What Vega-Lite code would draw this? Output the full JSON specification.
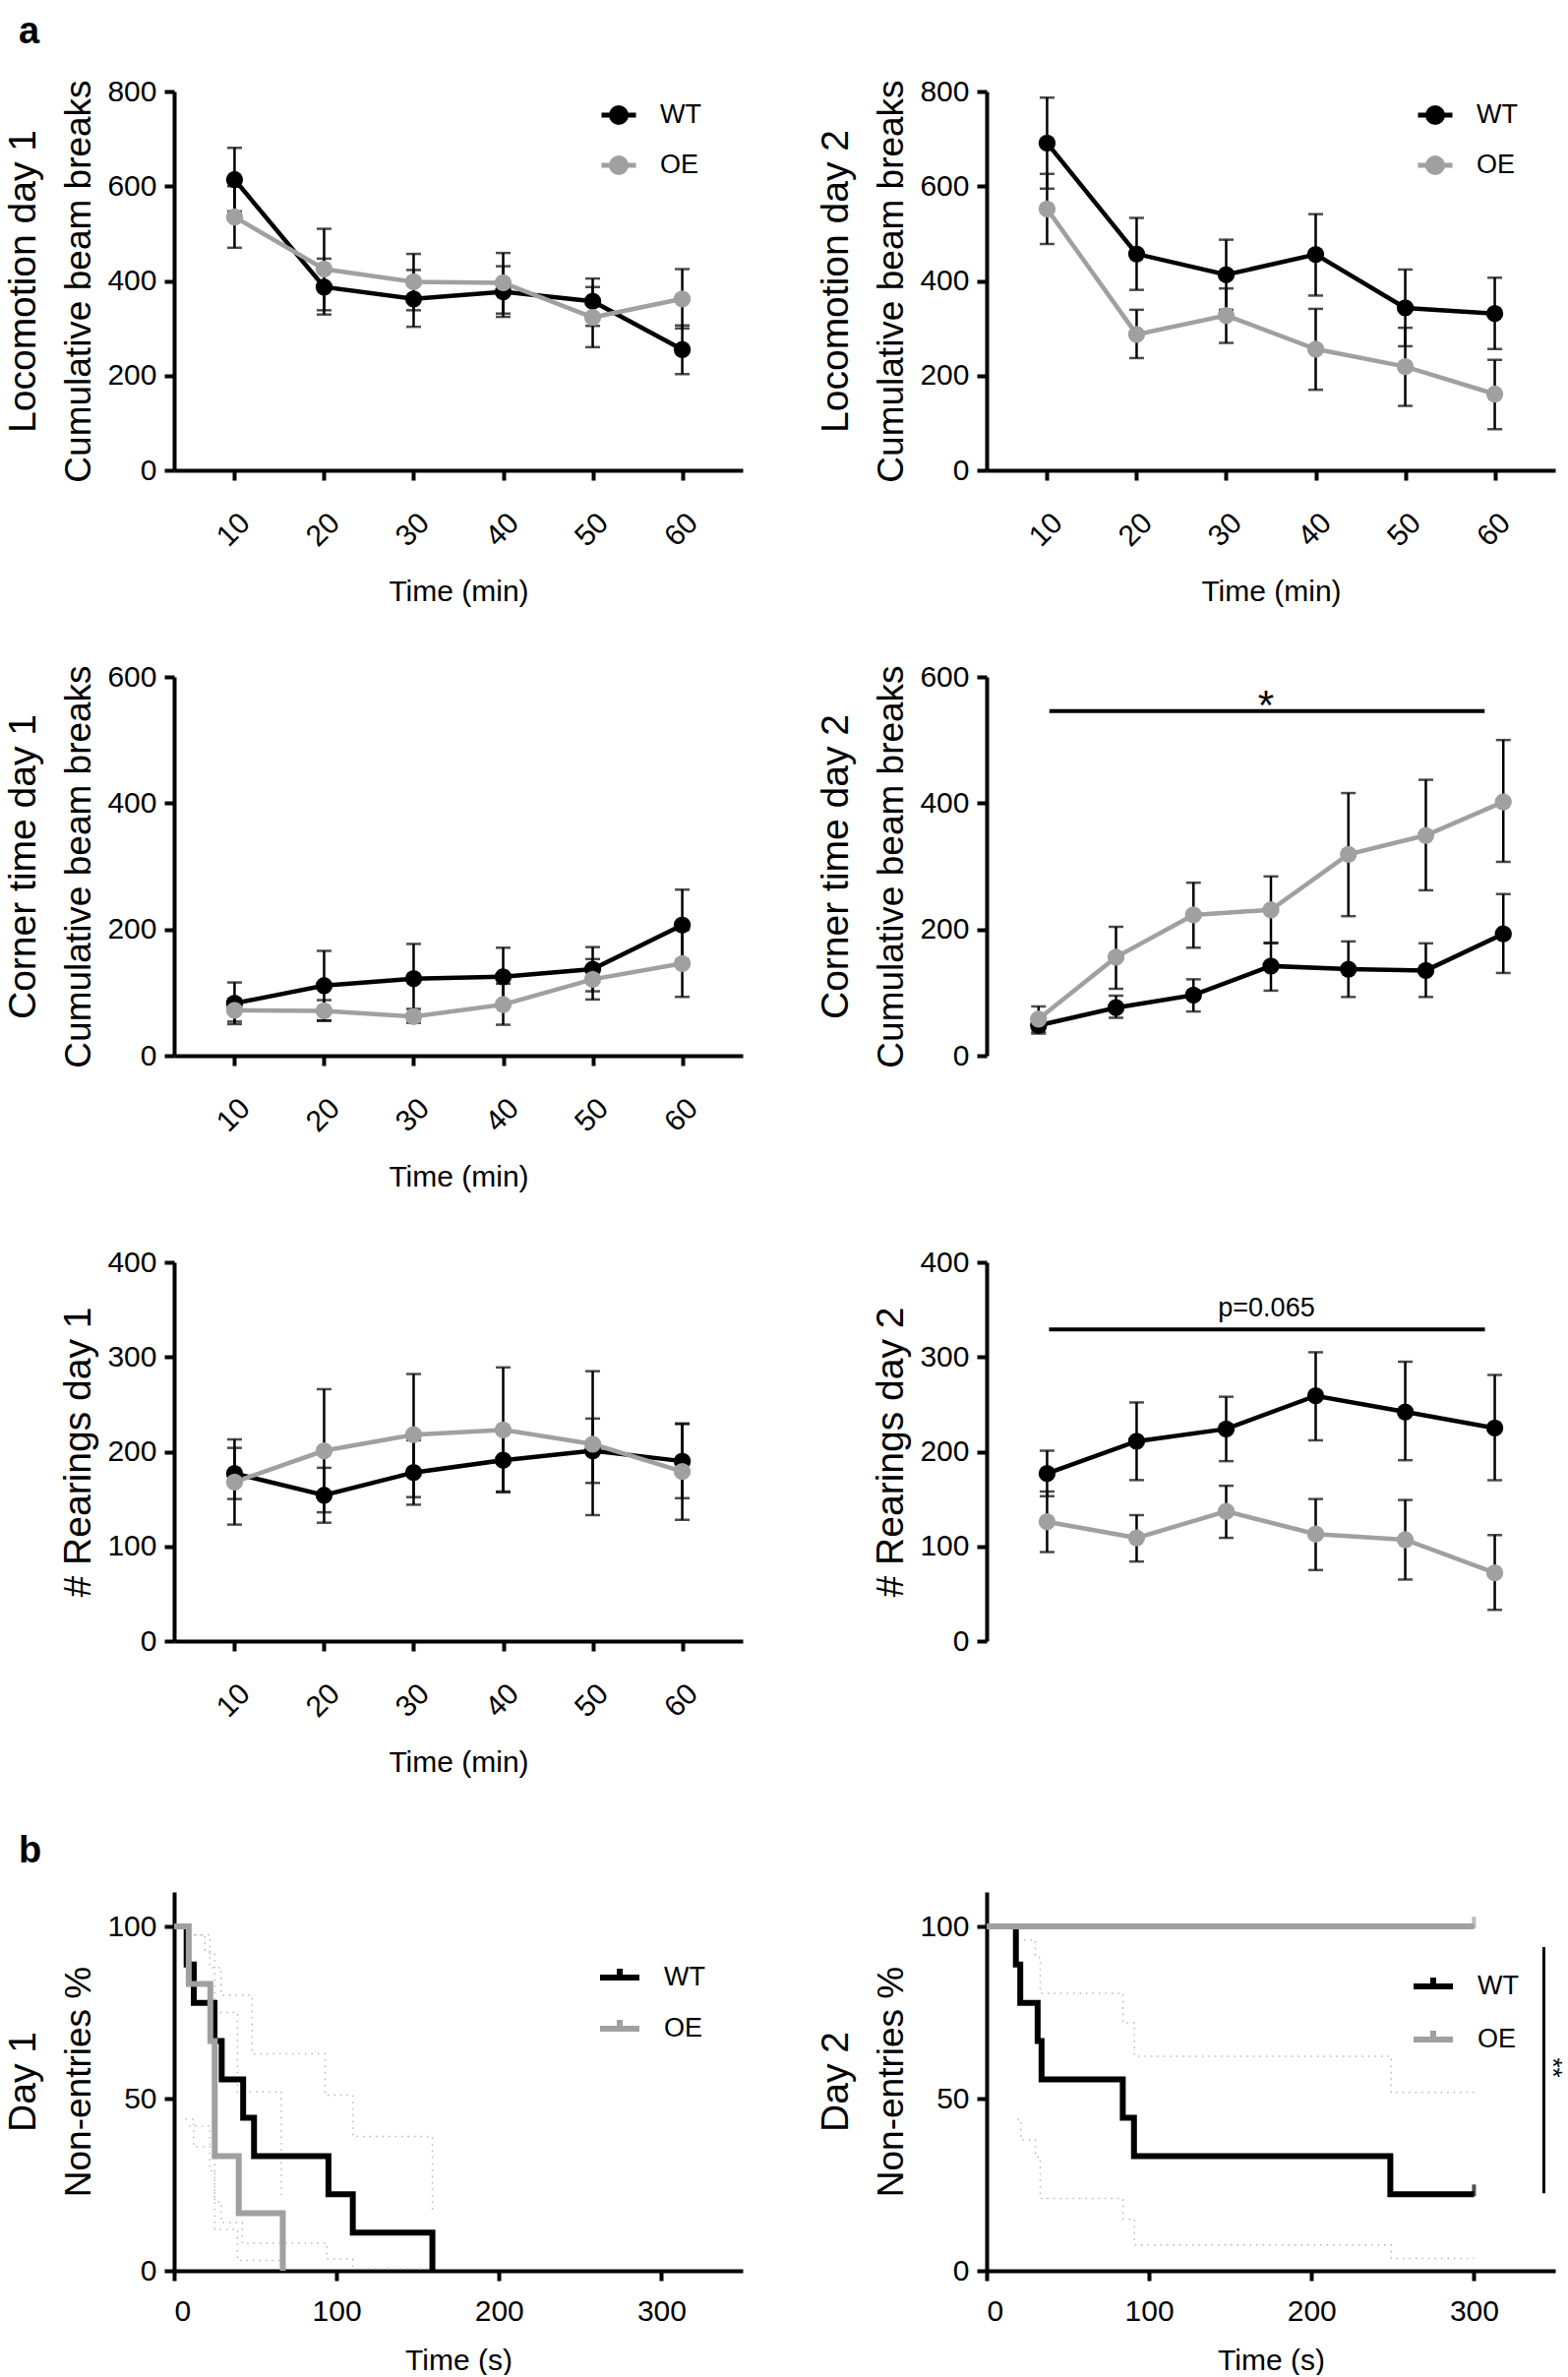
{
  "$schema": "https://vega.github.io/schema/vega-lite/v6.json",
  "padding": {"left": 4, "top": 14, "right": 8, "bottom": 0},
  "background": "white",
  "columns": 2,
  "spacing": {"row": 56, "column": 75},
  "resolve": {"scale": {"color": "independent"}, "legend": {"color": "independent"}},
  "config": {
    "font": "Liberation Sans",
    "view": {"stroke": null},
    "axis": {"domainColor": "#000", "domainWidth": 4, "tickColor": "#000", "tickWidth": 4, "tickSize": 10, "labelFontSize": 30, "labelColor": "#000", "titleColor": "#000", "titleFontWeight": "normal", "grid": false, "labelPadding": 8},
    "legend": {"labelFontSize": 27, "labelColor": "#000", "labelFont": "Liberation Sans"}
  },
  "datasets": {
    "loco1": [
      {"t": "10", "g": "WT", "m": 614, "lo": 547, "hi": 681},
      {"t": "10", "g": "OE", "m": 535, "lo": 470, "hi": 600},
      {"t": "20", "g": "WT", "m": 387, "lo": 329, "hi": 447},
      {"t": "20", "g": "OE", "m": 425, "lo": 338, "hi": 510},
      {"t": "30", "g": "WT", "m": 362, "lo": 303, "hi": 423},
      {"t": "30", "g": "OE", "m": 398, "lo": 338, "hi": 457},
      {"t": "40", "g": "WT", "m": 377, "lo": 324, "hi": 431},
      {"t": "40", "g": "OE", "m": 396, "lo": 331, "hi": 459},
      {"t": "50", "g": "WT", "m": 357, "lo": 305, "hi": 405},
      {"t": "50", "g": "OE", "m": 323, "lo": 260, "hi": 387},
      {"t": "60", "g": "WT", "m": 255, "lo": 203, "hi": 306},
      {"t": "60", "g": "OE", "m": 362, "lo": 300, "hi": 425}
    ],
    "loco2": [
      {"t": "10", "g": "WT", "m": 691, "lo": 595, "hi": 787},
      {"t": "10", "g": "OE", "m": 552, "lo": 478, "hi": 626},
      {"t": "20", "g": "WT", "m": 457, "lo": 381, "hi": 533},
      {"t": "20", "g": "OE", "m": 287, "lo": 237, "hi": 339},
      {"t": "30", "g": "WT", "m": 413, "lo": 339, "hi": 487},
      {"t": "30", "g": "OE", "m": 327, "lo": 269, "hi": 384},
      {"t": "40", "g": "WT", "m": 456, "lo": 369, "hi": 541},
      {"t": "40", "g": "OE", "m": 256, "lo": 170, "hi": 341},
      {"t": "50", "g": "WT", "m": 343, "lo": 262, "hi": 424},
      {"t": "50", "g": "OE", "m": 219, "lo": 136, "hi": 301},
      {"t": "60", "g": "WT", "m": 331, "lo": 256, "hi": 407},
      {"t": "60", "g": "OE", "m": 161, "lo": 87, "hi": 233}
    ],
    "corner1": [
      {"t": "10", "g": "WT", "m": 83, "lo": 50, "hi": 116},
      {"t": "10", "g": "OE", "m": 72, "lo": 54, "hi": 90},
      {"t": "20", "g": "WT", "m": 111, "lo": 56, "hi": 166},
      {"t": "20", "g": "OE", "m": 71, "lo": 55, "hi": 88},
      {"t": "30", "g": "WT", "m": 122, "lo": 67, "hi": 177},
      {"t": "30", "g": "OE", "m": 62, "lo": 52, "hi": 74},
      {"t": "40", "g": "WT", "m": 125, "lo": 79, "hi": 171},
      {"t": "40", "g": "OE", "m": 81, "lo": 49, "hi": 114},
      {"t": "50", "g": "WT", "m": 137, "lo": 102, "hi": 172},
      {"t": "50", "g": "OE", "m": 121, "lo": 89, "hi": 153},
      {"t": "60", "g": "WT", "m": 207, "lo": 151, "hi": 263},
      {"t": "60", "g": "OE", "m": 146, "lo": 93, "hi": 199}
    ],
    "corner2": [
      {"t": "1-5", "g": "WT", "m": 48, "lo": 35, "hi": 61},
      {"t": "1-5", "g": "OE", "m": 58, "lo": 38, "hi": 78},
      {"t": "10", "g": "WT", "m": 76, "lo": 60, "hi": 95},
      {"t": "10", "g": "OE", "m": 156, "lo": 106, "hi": 204},
      {"t": "20", "g": "WT", "m": 96, "lo": 70, "hi": 121},
      {"t": "20", "g": "OE", "m": 223, "lo": 171, "hi": 274},
      {"t": "30", "g": "WT", "m": 142, "lo": 103, "hi": 179},
      {"t": "30", "g": "OE", "m": 231, "lo": 178, "hi": 284},
      {"t": "40", "g": "WT", "m": 137, "lo": 93, "hi": 181},
      {"t": "40", "g": "OE", "m": 319, "lo": 221, "hi": 416},
      {"t": "50", "g": "WT", "m": 135, "lo": 93, "hi": 178},
      {"t": "50", "g": "OE", "m": 349, "lo": 262, "hi": 437},
      {"t": "60", "g": "WT", "m": 193, "lo": 131, "hi": 256},
      {"t": "60", "g": "OE", "m": 402, "lo": 307, "hi": 500}
    ],
    "rear1": [
      {"t": "10", "g": "WT", "m": 177, "lo": 150, "hi": 204},
      {"t": "10", "g": "OE", "m": 168, "lo": 123, "hi": 213},
      {"t": "20", "g": "WT", "m": 154, "lo": 125, "hi": 183},
      {"t": "20", "g": "OE", "m": 201, "lo": 136, "hi": 266},
      {"t": "30", "g": "WT", "m": 178, "lo": 144, "hi": 212},
      {"t": "30", "g": "OE", "m": 218, "lo": 152, "hi": 282},
      {"t": "40", "g": "WT", "m": 191, "lo": 158, "hi": 224},
      {"t": "40", "g": "OE", "m": 223, "lo": 157, "hi": 289},
      {"t": "50", "g": "WT", "m": 201, "lo": 167, "hi": 235},
      {"t": "50", "g": "OE", "m": 208, "lo": 133, "hi": 285},
      {"t": "60", "g": "WT", "m": 190, "lo": 151, "hi": 229},
      {"t": "60", "g": "OE", "m": 179, "lo": 128, "hi": 230}
    ],
    "rear2": [
      {"t": "10", "g": "WT", "m": 177, "lo": 153, "hi": 201},
      {"t": "10", "g": "OE", "m": 126, "lo": 94, "hi": 158},
      {"t": "20", "g": "WT", "m": 211, "lo": 170, "hi": 252},
      {"t": "20", "g": "OE", "m": 109, "lo": 84, "hi": 133},
      {"t": "30", "g": "WT", "m": 224, "lo": 190, "hi": 258},
      {"t": "30", "g": "OE", "m": 137, "lo": 109, "hi": 164},
      {"t": "40", "g": "WT", "m": 259, "lo": 212, "hi": 305},
      {"t": "40", "g": "OE", "m": 113, "lo": 75, "hi": 150},
      {"t": "50", "g": "WT", "m": 242, "lo": 191, "hi": 295},
      {"t": "50", "g": "OE", "m": 107, "lo": 65, "hi": 149},
      {"t": "60", "g": "WT", "m": 225, "lo": 170, "hi": 281},
      {"t": "60", "g": "OE", "m": 72, "lo": 33, "hi": 112}
    ],
    "surv1": [
      {"g": "WT", "x": 0, "y": 100}, {"g": "WT", "x": 7.7, "y": 88.9}, {"g": "WT", "x": 12.1, "y": 77.8},
      {"g": "WT", "x": 24.9, "y": 66.7}, {"g": "WT", "x": 29.3, "y": 55.6}, {"g": "WT", "x": 42.5, "y": 44.4},
      {"g": "WT", "x": 49.2, "y": 33.3}, {"g": "WT", "x": 95, "y": 22.2}, {"g": "WT", "x": 110, "y": 11.1},
      {"g": "WT", "x": 159, "y": 0},
      {"g": "OE", "x": 0, "y": 100}, {"g": "OE", "x": 9, "y": 83.3}, {"g": "OE", "x": 22.3, "y": 66.7},
      {"g": "OE", "x": 25, "y": 33.3}, {"g": "OE", "x": 39.8, "y": 16.7}, {"g": "OE", "x": 66.9, "y": 0}
    ],
    "surv2": [
      {"g": "WT", "x": 0, "y": 100}, {"g": "WT", "x": 18, "y": 88.9}, {"g": "WT", "x": 20.7, "y": 77.8},
      {"g": "WT", "x": 31.4, "y": 66.7}, {"g": "WT", "x": 33.8, "y": 55.6}, {"g": "WT", "x": 83.8, "y": 44.4},
      {"g": "WT", "x": 90.7, "y": 33.3}, {"g": "WT", "x": 248.5, "y": 22.2}, {"g": "WT", "x": 300, "y": 22.2},
      {"g": "OE", "x": 0, "y": 100}, {"g": "OE", "x": 300, "y": 100}
    ],
    "band1": [
      {"b": "wu", "x": 8, "y": 97.5}, {"b": "wu", "x": 19, "y": 93}, {"b": "wu", "x": 22, "y": 88}, {"b": "wu", "x": 29, "y": 80},
      {"b": "wu", "x": 48, "y": 63}, {"b": "wu", "x": 93, "y": 51}, {"b": "wu", "x": 110, "y": 39}, {"b": "wu", "x": 159, "y": 39}, {"b": "wu", "x": 159, "y": 17},
      {"b": "wl", "x": 7, "y": 44}, {"b": "wl", "x": 12, "y": 36}, {"b": "wl", "x": 22, "y": 29}, {"b": "wl", "x": 25, "y": 20},
      {"b": "wl", "x": 29, "y": 14}, {"b": "wl", "x": 42, "y": 8}, {"b": "wl", "x": 94, "y": 3.4}, {"b": "wl", "x": 110, "y": 0.6}, {"b": "wl", "x": 159, "y": 0.6},
      {"b": "ou", "x": 9, "y": 97.5}, {"b": "ou", "x": 22, "y": 92}, {"b": "ou", "x": 25, "y": 75}, {"b": "ou", "x": 39, "y": 52},
      {"b": "ou", "x": 66, "y": 52}, {"b": "ou", "x": 66, "y": 22},
      {"b": "ol", "x": 9, "y": 42}, {"b": "ol", "x": 22, "y": 36}, {"b": "ol", "x": 25, "y": 12}, {"b": "ol", "x": 39, "y": 3}, {"b": "ol", "x": 66, "y": 3}
    ],
    "band2": [
      {"b": "wu", "x": 19, "y": 96}, {"b": "wu", "x": 30, "y": 91}, {"b": "wu", "x": 33, "y": 80.6}, {"b": "wu", "x": 84, "y": 72},
      {"b": "wu", "x": 91, "y": 62.3}, {"b": "wu", "x": 249, "y": 51.8}, {"b": "wu", "x": 300, "y": 51.8},
      {"b": "wl", "x": 19, "y": 44}, {"b": "wl", "x": 21, "y": 38}, {"b": "wl", "x": 30, "y": 33}, {"b": "wl", "x": 33, "y": 21},
      {"b": "wl", "x": 84, "y": 15}, {"b": "wl", "x": 91, "y": 7.5}, {"b": "wl", "x": 249, "y": 3.6}, {"b": "wl", "x": 300, "y": 3.6}
    ]
  },
  "concat": [
    {
      "width": 578, "height": 385,
      "title": {"text": "a", "anchor": "start", "frame": "bounds", "fontSize": 38, "fontWeight": "bold", "offset": 26, "dx": 15, "color": "#000"},
      "data": {"name": "loco1"},
      "encoding": {"x": {"field": "t", "type": "ordinal", "scale": {"type": "point", "padding": 0.675, "domain": ["10", "20", "30", "40", "50", "60"]}, "axis": {"title": "Time (min)", "labelAngle": -45, "labelPadding": 28, "titleFontSize": 30, "titlePadding": 26}}},
      "layer": [
        {"mark": {"type": "rule", "color": "#000", "strokeWidth": 2.5}, "encoding": {"y": {"field": "lo", "type": "quantitative", "scale": {"domain": [0, 800], "nice": false}, "axis": null}, "y2": {"field": "hi"}}},
        {"mark": {"type": "tick", "color": "#000", "thickness": 2.5, "size": 15}, "encoding": {"y": {"field": "lo", "type": "quantitative", "axis": null}}},
        {"mark": {"type": "tick", "color": "#000", "thickness": 2.5, "size": 15}, "encoding": {"y": {"field": "hi", "type": "quantitative", "axis": null}}},
        {"mark": {"type": "line", "strokeWidth": 4.5}, "encoding": {
          "y": {"field": "m", "type": "quantitative", "axis": {"orient": "left", "title": "Cumulative beam breaks", "titleFontSize": 37, "titlePadding": 9, "values": [0, 200, 400, 600, 800]}},
          "color": {"field": "g", "type": "nominal", "scale": {"domain": ["WT", "OE"], "range": ["#000000", "#a0a0a0"]},
            "legend": {"title": null, "orient": "none", "legendX": 432, "legendY": 4, "symbolType": "M-1,0H1M0.143,0A0.143,0.143,0,1,1,-0.143,0A0.143,0.143,0,1,1,0.143,0M0.43,0A0.43,0.43,0,1,1,-0.43,0A0.43,0.43,0,1,1,0.43,0", "symbolSize": 1225, "symbolStrokeWidth": 5, "labelOffset": 22, "rowPadding": 13}}}},
        {"mark": {"type": "point", "filled": true, "size": 300, "opacity": 1}, "encoding": {
          "y": {"field": "m", "type": "quantitative", "axis": {"orient": "left", "title": "Locomotion day 1", "titleFontSize": 39, "titlePadding": 134, "labels": false, "ticks": false, "domain": false}},
          "color": {"field": "g", "type": "nominal", "legend": null}}}
      ],
      "resolve": {"axis": {"y": "independent"}}
    },
    {
      "width": 578, "height": 385,
      "data": {"name": "loco2"},
      "encoding": {"x": {"field": "t", "type": "ordinal", "scale": {"type": "point", "padding": 0.675, "domain": ["10", "20", "30", "40", "50", "60"]}, "axis": {"title": "Time (min)", "labelAngle": -45, "labelPadding": 28, "titleFontSize": 30, "titlePadding": 26}}},
      "layer": [
        {"mark": {"type": "rule", "color": "#000", "strokeWidth": 2.5}, "encoding": {"y": {"field": "lo", "type": "quantitative", "scale": {"domain": [0, 800], "nice": false}, "axis": null}, "y2": {"field": "hi"}}},
        {"mark": {"type": "tick", "color": "#000", "thickness": 2.5, "size": 15}, "encoding": {"y": {"field": "lo", "type": "quantitative", "axis": null}}},
        {"mark": {"type": "tick", "color": "#000", "thickness": 2.5, "size": 15}, "encoding": {"y": {"field": "hi", "type": "quantitative", "axis": null}}},
        {"mark": {"type": "line", "strokeWidth": 4.5}, "encoding": {
          "y": {"field": "m", "type": "quantitative", "axis": {"orient": "left", "title": "Cumulative beam breaks", "titleFontSize": 37, "titlePadding": 9, "values": [0, 200, 400, 600, 800]}},
          "color": {"field": "g", "type": "nominal", "scale": {"domain": ["WT", "OE"], "range": ["#000000", "#a0a0a0"]},
            "legend": {"title": null, "orient": "none", "legendX": 436, "legendY": 4, "symbolType": "M-1,0H1M0.143,0A0.143,0.143,0,1,1,-0.143,0A0.143,0.143,0,1,1,0.143,0M0.43,0A0.43,0.43,0,1,1,-0.43,0A0.43,0.43,0,1,1,0.43,0", "symbolSize": 1225, "symbolStrokeWidth": 5, "labelOffset": 22, "rowPadding": 13}}}},
        {"mark": {"type": "point", "filled": true, "size": 300, "opacity": 1}, "encoding": {
          "y": {"field": "m", "type": "quantitative", "axis": {"orient": "left", "title": "Locomotion day 2", "titleFontSize": 39, "titlePadding": 134, "labels": false, "ticks": false, "domain": false}},
          "color": {"field": "g", "type": "nominal", "legend": null}}}
      ],
      "resolve": {"axis": {"y": "independent"}}
    },
    {
      "width": 578, "height": 385,
      "data": {"name": "corner1"},
      "encoding": {"x": {"field": "t", "type": "ordinal", "scale": {"type": "point", "padding": 0.675, "domain": ["10", "20", "30", "40", "50", "60"]}, "axis": {"title": "Time (min)", "labelAngle": -45, "labelPadding": 28, "titleFontSize": 30, "titlePadding": 26}}},
      "layer": [
        {"mark": {"type": "rule", "color": "#000", "strokeWidth": 2.5}, "encoding": {"y": {"field": "lo", "type": "quantitative", "scale": {"domain": [0, 600], "nice": false}, "axis": null}, "y2": {"field": "hi"}}},
        {"mark": {"type": "tick", "color": "#000", "thickness": 2.5, "size": 15}, "encoding": {"y": {"field": "lo", "type": "quantitative", "axis": null}}},
        {"mark": {"type": "tick", "color": "#000", "thickness": 2.5, "size": 15}, "encoding": {"y": {"field": "hi", "type": "quantitative", "axis": null}}},
        {"mark": {"type": "line", "strokeWidth": 4.5}, "encoding": {
          "y": {"field": "m", "type": "quantitative", "axis": {"orient": "left", "title": "Cumulative beam breaks", "titleFontSize": 37, "titlePadding": 9, "values": [0, 200, 400, 600]}},
          "color": {"field": "g", "type": "nominal", "scale": {"domain": ["WT", "OE"], "range": ["#000000", "#a0a0a0"]}, "legend": null}}},
        {"mark": {"type": "point", "filled": true, "size": 300, "opacity": 1}, "encoding": {
          "y": {"field": "m", "type": "quantitative", "axis": {"orient": "left", "title": "Corner time day 1", "titleFontSize": 39, "titlePadding": 134, "labels": false, "ticks": false, "domain": false}},
          "color": {"field": "g", "type": "nominal", "legend": null}}}
      ],
      "resolve": {"axis": {"y": "independent"}}
    },
    {
      "width": 578, "height": 385,
      "data": {"name": "corner2"},
      "encoding": {"x": {"field": "t", "type": "ordinal", "scale": {"type": "point", "padding": 0.67, "domain": ["1-5", "10", "20", "30", "40", "50", "60"]}, "axis": {"title": "Time (min)", "labelAngle": -45, "labelPadding": 28, "titleFontSize": 30, "titlePadding": 26}}},
      "layer": [
        {"mark": {"type": "rule", "color": "#000", "strokeWidth": 2.5}, "encoding": {"y": {"field": "lo", "type": "quantitative", "scale": {"domain": [0, 600], "nice": false}, "axis": null}, "y2": {"field": "hi"}}},
        {"mark": {"type": "tick", "color": "#000", "thickness": 2.5, "size": 15}, "encoding": {"y": {"field": "lo", "type": "quantitative", "axis": null}}},
        {"mark": {"type": "tick", "color": "#000", "thickness": 2.5, "size": 15}, "encoding": {"y": {"field": "hi", "type": "quantitative", "axis": null}}},
        {"mark": {"type": "line", "strokeWidth": 4.5}, "encoding": {
          "y": {"field": "m", "type": "quantitative", "axis": {"orient": "left", "title": "Cumulative beam breaks", "titleFontSize": 37, "titlePadding": 9, "values": [0, 200, 400, 600]}},
          "color": {"field": "g", "type": "nominal", "scale": {"domain": ["WT", "OE"], "range": ["#000000", "#a0a0a0"]}, "legend": null}}},
        {"mark": {"type": "point", "filled": true, "size": 300, "opacity": 1}, "encoding": {
          "y": {"field": "m", "type": "quantitative", "axis": {"orient": "left", "title": "Corner time day 2", "titleFontSize": 39, "titlePadding": 134, "labels": false, "ticks": false, "domain": false}},
          "color": {"field": "g", "type": "nominal", "legend": null}}},
        {"data": {"values": [{"a": "1-5", "b": "60", "y": 546, "s": "*", "c": "30"}]},
          "layer": [
            {"mark": {"type": "rule", "color": "#000", "strokeWidth": 4, "xOffset": 11, "x2Offset": -19}, "encoding": {"x": {"field": "a", "type": "ordinal", "axis": null}, "x2": {"field": "b"}, "y": {"field": "y", "type": "quantitative", "axis": null}}},
            {"mark": {"type": "text", "fontSize": 42, "baseline": "alphabetic", "dy": 8, "dx": -5, "color": "#000"}, "encoding": {"x": {"field": "c", "type": "ordinal", "axis": null}, "y": {"field": "y", "type": "quantitative", "axis": null}, "text": {"field": "s"}}}
          ]}
      ],
      "resolve": {"axis": {"y": "independent"}}
    },
    {
      "width": 578, "height": 385,
      "data": {"name": "rear1"},
      "encoding": {"x": {"field": "t", "type": "ordinal", "scale": {"type": "point", "padding": 0.675, "domain": ["10", "20", "30", "40", "50", "60"]}, "axis": {"title": "Time (min)", "labelAngle": -45, "labelPadding": 28, "titleFontSize": 30, "titlePadding": 26}}},
      "layer": [
        {"mark": {"type": "rule", "color": "#000", "strokeWidth": 2.5}, "encoding": {"y": {"field": "lo", "type": "quantitative", "scale": {"domain": [0, 400], "nice": false}, "axis": null}, "y2": {"field": "hi"}}},
        {"mark": {"type": "tick", "color": "#000", "thickness": 2.5, "size": 15}, "encoding": {"y": {"field": "lo", "type": "quantitative", "axis": null}}},
        {"mark": {"type": "tick", "color": "#000", "thickness": 2.5, "size": 15}, "encoding": {"y": {"field": "hi", "type": "quantitative", "axis": null}}},
        {"mark": {"type": "line", "strokeWidth": 4.5}, "encoding": {
          "y": {"field": "m", "type": "quantitative", "axis": {"orient": "left", "title": "# Rearings day 1", "titleFontSize": 39, "titlePadding": 9, "values": [0, 100, 200, 300, 400]}},
          "color": {"field": "g", "type": "nominal", "scale": {"domain": ["WT", "OE"], "range": ["#000000", "#a0a0a0"]}, "legend": null}}},
        {"mark": {"type": "point", "filled": true, "size": 300, "opacity": 1}, "encoding": {
          "y": {"field": "m", "type": "quantitative", "axis": null},
          "color": {"field": "g", "type": "nominal", "legend": null}}}
      ],
      "resolve": {"axis": {"y": "independent"}}
    },
    {
      "width": 578, "height": 385,
      "data": {"name": "rear2"},
      "encoding": {"x": {"field": "t", "type": "ordinal", "scale": {"type": "point", "padding": 0.675, "domain": ["10", "20", "30", "40", "50", "60"]}, "axis": {"title": "Time (min)", "labelAngle": -45, "labelPadding": 28, "titleFontSize": 30, "titlePadding": 26}}},
      "layer": [
        {"mark": {"type": "rule", "color": "#000", "strokeWidth": 2.5}, "encoding": {"y": {"field": "lo", "type": "quantitative", "scale": {"domain": [0, 400], "nice": false}, "axis": null}, "y2": {"field": "hi"}}},
        {"mark": {"type": "tick", "color": "#000", "thickness": 2.5, "size": 15}, "encoding": {"y": {"field": "lo", "type": "quantitative", "axis": null}}},
        {"mark": {"type": "tick", "color": "#000", "thickness": 2.5, "size": 15}, "encoding": {"y": {"field": "hi", "type": "quantitative", "axis": null}}},
        {"mark": {"type": "line", "strokeWidth": 4.5}, "encoding": {
          "y": {"field": "m", "type": "quantitative", "axis": {"orient": "left", "title": "# Rearings day 2", "titleFontSize": 39, "titlePadding": 9, "values": [0, 100, 200, 300, 400]}},
          "color": {"field": "g", "type": "nominal", "scale": {"domain": ["WT", "OE"], "range": ["#000000", "#a0a0a0"]}, "legend": null}}},
        {"mark": {"type": "point", "filled": true, "size": 300, "opacity": 1}, "encoding": {
          "y": {"field": "m", "type": "quantitative", "axis": null},
          "color": {"field": "g", "type": "nominal", "legend": null}}},
        {"data": {"values": [{"a": "10", "b": "60", "y": 329, "s": "p=0.065", "c": "30"}]},
          "layer": [
            {"mark": {"type": "rule", "color": "#000", "strokeWidth": 4, "xOffset": 2, "x2Offset": -10}, "encoding": {"x": {"field": "a", "type": "ordinal", "axis": null}, "x2": {"field": "b"}, "y": {"field": "y", "type": "quantitative", "axis": null}}},
            {"mark": {"type": "text", "fontSize": 27, "baseline": "alphabetic", "dy": -13, "dx": 41, "color": "#000"}, "encoding": {"x": {"field": "c", "type": "ordinal", "axis": null}, "y": {"field": "y", "type": "quantitative", "axis": null}, "text": {"field": "s"}}}
          ]}
      ],
      "resolve": {"axis": {"y": "independent"}}
    },
    {
      "width": 578, "height": 385,
      "title": {"text": "b", "anchor": "start", "frame": "bounds", "fontSize": 38, "fontWeight": "bold", "offset": 22, "dx": 15, "color": "#000"},
      "encoding": {"x": {"field": "x", "type": "quantitative", "scale": {"domain": [0, 350], "nice": false}, "axis": {"title": "Time (s)", "values": [0, 100, 200, 300], "labelPadding": 16, "titleFontSize": 30, "titlePadding": 20}}},
      "layer": [
        {"data": {"name": "band1"}, "mark": {"type": "line", "interpolate": "step-after", "color": "#b8b8b8", "strokeWidth": 1.5, "strokeDash": [1.5, 5]}, "encoding": {
          "y": {"field": "y", "type": "quantitative", "scale": {"domain": [0, 110], "nice": false}, "axis": {"orient": "left", "title": "Non-entries %", "titleFontSize": 37, "titlePadding": 9, "values": [0, 50, 100]}},
          "detail": {"field": "b"}}},
        {"data": {"name": "surv1"}, "mark": {"type": "line", "interpolate": "step-after", "strokeWidth": 6}, "encoding": {
          "y": {"field": "y", "type": "quantitative", "axis": {"orient": "left", "title": "Day 1", "titleFontSize": 39, "titlePadding": 134, "labels": false, "ticks": false, "domain": false}},
          "color": {"field": "g", "type": "nominal", "scale": {"domain": ["WT", "OE"], "range": ["#000000", "#a0a0a0"]},
            "legend": {"title": null, "orient": "none", "legendX": 430, "legendY": 64, "symbolType": "M-1,0H1M0,0V-0.45", "symbolSize": 1600, "symbolStrokeWidth": 6, "labelOffset": 22, "rowPadding": 16}}}}
      ],
      "resolve": {"axis": {"y": "independent"}}
    },
    {
      "width": 578, "height": 385,
      "encoding": {"x": {"field": "x", "type": "quantitative", "scale": {"domain": [0, 350], "nice": false}, "axis": {"title": "Time (s)", "values": [0, 100, 200, 300], "labelPadding": 16, "titleFontSize": 30, "titlePadding": 20}}},
      "layer": [
        {"data": {"name": "band2"}, "mark": {"type": "line", "interpolate": "step-after", "color": "#b8b8b8", "strokeWidth": 1.5, "strokeDash": [1.5, 5]}, "encoding": {
          "y": {"field": "y", "type": "quantitative", "scale": {"domain": [0, 110], "nice": false}, "axis": {"orient": "left", "title": "Non-entries %", "titleFontSize": 37, "titlePadding": 9, "values": [0, 50, 100]}},
          "detail": {"field": "b"}}},
        {"data": {"name": "surv2"}, "mark": {"type": "line", "interpolate": "step-after", "strokeWidth": 6}, "encoding": {
          "y": {"field": "y", "type": "quantitative", "axis": {"orient": "left", "title": "Day 2", "titleFontSize": 39, "titlePadding": 134, "labels": false, "ticks": false, "domain": false}},
          "color": {"field": "g", "type": "nominal", "scale": {"domain": ["WT", "OE"], "range": ["#000000", "#a0a0a0"]},
            "legend": {"title": null, "orient": "none", "legendX": 431, "legendY": 73, "symbolType": "M-1,0H1M0,0V-0.45", "symbolSize": 1600, "symbolStrokeWidth": 6, "labelOffset": 22, "rowPadding": 18}}}},
        {"data": {"values": [{"x": 300, "y": 22.2, "g": "WT"}, {"x": 300, "y": 100, "g": "OE"}]}, "mark": {"type": "tick", "orient": "vertical", "thickness": 4, "size": 12, "yOffset": -4}, "encoding": {
          "y": {"field": "y", "type": "quantitative", "axis": null},
          "color": {"field": "g", "type": "nominal", "legend": null}}},
        {"data": {"values": [{"x": 343, "y": 22.5, "y2": 94}]}, "mark": {"type": "rule", "color": "#000", "strokeWidth": 3}, "encoding": {
          "y": {"field": "y", "type": "quantitative", "axis": null}, "y2": {"field": "y2"}}},
        {"data": {"values": [{"x": 348, "y": 59, "s": "**"}]}, "mark": {"type": "text", "angle": 90, "fontSize": 26, "color": "#000"}, "encoding": {
          "y": {"field": "y", "type": "quantitative", "axis": null}, "text": {"field": "s"}}}
      ],
      "resolve": {"axis": {"y": "independent"}}
    }
  ]
}
